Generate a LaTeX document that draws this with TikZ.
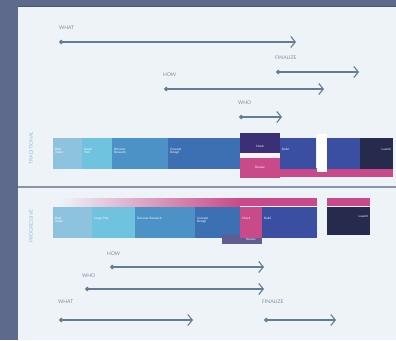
\documentclass[tikz,border=0pt]{standalone}
\usepackage{fontspec}
\setmainfont{Lato}
\usetikzlibrary{arrows.meta}
\definecolor{outerc}{HTML}{5E6A8C}
\definecolor{panelc}{HTML}{EEF3F8}
\definecolor{arrc}{HTML}{647C96}
\definecolor{labc}{HTML}{7E8DA3}
\definecolor{segA}{HTML}{8EC3DF}
\definecolor{segB}{HTML}{6FC3DF}
\definecolor{segC}{HTML}{4C92C6}
\definecolor{segD}{HTML}{3D70B2}
\definecolor{segE}{HTML}{3B4FA2}
\definecolor{segF}{HTML}{262B4E}
\definecolor{purc}{HTML}{3B2F76}
\definecolor{pinkc}{HTML}{C84A88}
\definecolor{lavc}{HTML}{615C92}
\definecolor{divc}{HTML}{8C95A8}
\tikzset{
  flow/.style={draw=arrc, line width=1.1pt,
    {Circle[length=4.5pt]}-{Straight Barb[length=4.5pt,width=11pt,line width=1.1pt]}},
  lab/.style={text=labc, font=\fontsize{5}{6}\selectfont, inner sep=0pt, anchor=west},
  seg/.style={anchor=north west, inner sep=1pt, text=white,
    font=\fontsize{3}{3.6}\selectfont, align=left, text width=#1-4pt, minimum width=#1,
    minimum height=31pt, text depth=9pt},
  side/.style={text=segA, font=\fontsize{5}{6}\selectfont, rotate=90, inner sep=0pt}
}
\begin{document}
\begin{tikzpicture}[x=1pt,y=-1pt]
\useasboundingbox (0,0) rectangle (396,340);
\fill[outerc] (0,0) rectangle (396,340);
\fill[panelc] (18,6) rectangle (396,340);
\draw[outerc!80!black, line width=0.8pt] (18,6) -- (396,6);
% divider
\draw[divc, line width=1.4pt] (18,187) -- (396,187);
\node[side] (sideT) at (31,148) {TRADITIONAL};
\node[side] (sideB) at (31,226) {PROGRESSIVE};

% ---------- top section arrows
\node[lab] (l1) at (59,28) {WHAT};
\coordinate (a1s) at (59,42); \coordinate (a1e) at (296,42);
\draw[flow] (a1s) -- (a1e);
\node[lab] (l2) at (275,58) {FINALIZE};
\coordinate (a2s) at (276,72); \coordinate (a2e) at (359,72);
\draw[flow] (a2s) -- (a2e);
\node[lab] (l3) at (163,75) {HOW};
\coordinate (a3s) at (164,89); \coordinate (a3e) at (324,89);
\draw[flow] (a3s) -- (a3e);
\node[lab] (l4) at (238,103) {WHO};
\coordinate (a4s) at (239,117); \coordinate (a4e) at (282,117);
\draw[flow] (a4s) -- (a4e);

% ---------- top bar
\fill[pinkc] (240,168) rectangle (393,177);
\node[seg=29pt, fill=segA] (t1) at (53,138) {Brief\\Intake};
\node[seg=30pt, fill=segB] (t2) at (82,138) {Scope\\Plan};
\node[seg=56pt, fill=segC] (t3) at (112,138) {Discover\\Research};
\node[seg=72pt, fill=segD] (t4) at (168,138) {Concept\\Design};
\fill[purc] (240,133) rectangle (280,153);
\fill[white!92!pinkc] (240,153) rectangle (280,158);
\fill[pinkc] (240,158) rectangle (280,178);
\node[text=white, font=\fontsize{3}{3.6}\selectfont, inner sep=0pt] (t5) at (260,146) {Check};
\node[text=white, font=\fontsize{3}{3.6}\selectfont, inner sep=0pt] (t5b) at (260,167) {Review};
\node[seg=36pt, fill=segE] (t6) at (280,138) {Build};
\fill[white] (317,134) rectangle (327,172);
\node[seg=33pt, fill=segE] (t7) at (327,138) {};
\node[seg=33pt, fill=segF] (t8) at (360,138) {\hfill Launch};

% ---------- bottom bar
\shade[left color=panelc, right color=pinkc] (60,198) rectangle (240,206);
\fill[pinkc] (240,198) rectangle (317,206);
\fill[pinkc] (327,198) rectangle (370,206);
\node[seg=39pt, fill=segA] (b1) at (53,207) {Brief\\Intake};
\node[seg=43pt, fill=segB] (b2) at (92,207) {Scope Plan};
\node[seg=60pt, fill=segC] (b3) at (135,207) {Discover Research};
\node[seg=45pt, fill=segD] (b4) at (195,207) {Concept\\Design};
\fill[lavc] (222,235) rectangle (262,244);
\node[seg=22pt, fill=pinkc] (b5) at (240,207) {Check};
\node[text=white, font=\fontsize{3}{3.6}\selectfont, inner sep=0pt] (b5b) at (251,239) {Review};
\node[seg=55pt, fill=segE] (b6) at (262,207) {Build};
\node[seg=43pt, fill=segF, minimum height=28pt] (b7) at (327,207) {\hfill Launch};

% ---------- bottom arrows
\node[lab] (m1) at (107,254) {HOW};
\coordinate (b1s) at (110,267); \coordinate (b1e) at (264,267);
\draw[flow] (b1s) -- (b1e);
\node[lab] (m2) at (82,276) {WHO};
\coordinate (b2s) at (85,289); \coordinate (b2e) at (264,289);
\draw[flow] (b2s) -- (b2e);
\node[lab] (m3) at (58,302) {WHAT};
\coordinate (b3s) at (59,320); \coordinate (b3e) at (193,320);
\draw[flow] (b3s) -- (b3e);
\node[lab] (m4) at (262,302) {FINALIZE};
\coordinate (b4s) at (264,320); \coordinate (b4e) at (336,320);
\draw[flow] (b4s) -- (b4e);
\end{tikzpicture}
\end{document}
